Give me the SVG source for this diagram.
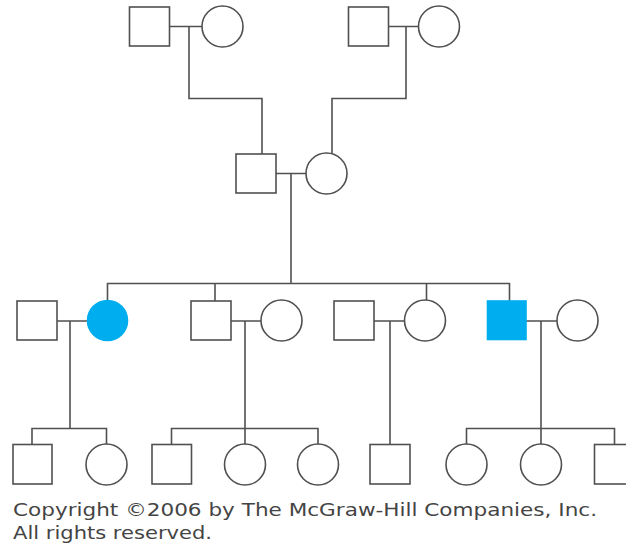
<svg xmlns="http://www.w3.org/2000/svg" width="626" height="546" viewBox="0 0 626 546">
<style>
.n{fill:#fff;stroke:#505050;stroke-width:1.6}
.a{fill:#00aeef;stroke:#00aeef;stroke-width:1.6}
.c{fill:none;stroke:#505050;stroke-width:1.6}
.t{font-family:"DejaVu Sans",Verdana,sans-serif;font-size:17px;fill:#444}
</style>
<rect width="626" height="546" fill="#fff"/>
<g id="connectors" class="c">
<path d="M170,26.5H202M189,26.5V98.5H262V154"/>
<path d="M388,26.5H419M406,26.5V98.5H332V153.5"/>
<path d="M276,173.5H306M291,173.5V283.5"/>
<path d="M107.5,300V283.5H509.5V301M215,283.5V301M426.5,283.5V300"/>
<path d="M57,321H87M70,321V428.5"/>
<path d="M231,321H261M245,321V428.5"/>
<path d="M374,321H404.5M390,321V444"/>
<path d="M526,321H557M541,321V428.5"/>
<path d="M32,444V428.5H106.5V444"/>
<path d="M171.5,444V428.5H318V444M245,428.5V444"/>
<path d="M466.5,444V428.5H614.5V444M541,428.5V444"/>
</g>
<g id="gp1m"><rect class="n" x="129.5" y="7" width="40" height="39"/></g>
<g id="gp1f"><circle class="n" cx="222.5" cy="26.5" r="20.5"/></g>
<g id="gp2m"><rect class="n" x="348.5" y="7" width="40" height="39"/></g>
<g id="gp2f"><circle class="n" cx="439" cy="26.5" r="20.5"/></g>
<g id="pm"><rect class="n" x="236" y="154" width="40" height="39"/></g>
<g id="pf"><circle class="n" cx="326.5" cy="173.5" r="20.5"/></g>
<g id="s1m"><rect class="n" x="17" y="301" width="40" height="39"/></g>
<g id="s1f"><circle class="a" cx="107.5" cy="320.5" r="20"/></g>
<g id="s2m"><rect class="n" x="191" y="301" width="40" height="39"/></g>
<g id="s2f"><circle class="n" cx="281.5" cy="320.5" r="20.5"/></g>
<g id="s3m"><rect class="n" x="334" y="301" width="40" height="39"/></g>
<g id="s3f"><circle class="n" cx="425" cy="320.5" r="20.5"/></g>
<g id="s4m"><rect class="a" x="487.5" y="301" width="38.5" height="38.5"/></g>
<g id="s4f"><circle class="n" cx="577.5" cy="320.5" r="20.5"/></g>
<g id="c1"><rect class="n" x="13" y="444.5" width="39" height="39.5"/></g>
<g id="c2"><circle class="n" cx="106.5" cy="464.5" r="20.5"/></g>
<g id="c3"><rect class="n" x="152" y="444.5" width="39.5" height="39.5"/></g>
<g id="c4"><circle class="n" cx="245" cy="464.5" r="20.5"/></g>
<g id="c5"><circle class="n" cx="318" cy="464.5" r="20.5"/></g>
<g id="c6"><rect class="n" x="370" y="444.5" width="40" height="39.5"/></g>
<g id="c7"><circle class="n" cx="466.5" cy="464.5" r="20.5"/></g>
<g id="c8"><circle class="n" cx="541" cy="464.5" r="20.5"/></g>
<g id="c9"><rect class="n" x="594.5" y="444.5" width="40" height="39.5"/></g>
<text class="t" x="13" y="516" textLength="584" lengthAdjust="spacingAndGlyphs">Copyright ©2006 by The McGraw-Hill Companies, Inc.</text>
<text class="t" x="13" y="539" textLength="199" lengthAdjust="spacingAndGlyphs">All rights reserved.</text>
</svg>
